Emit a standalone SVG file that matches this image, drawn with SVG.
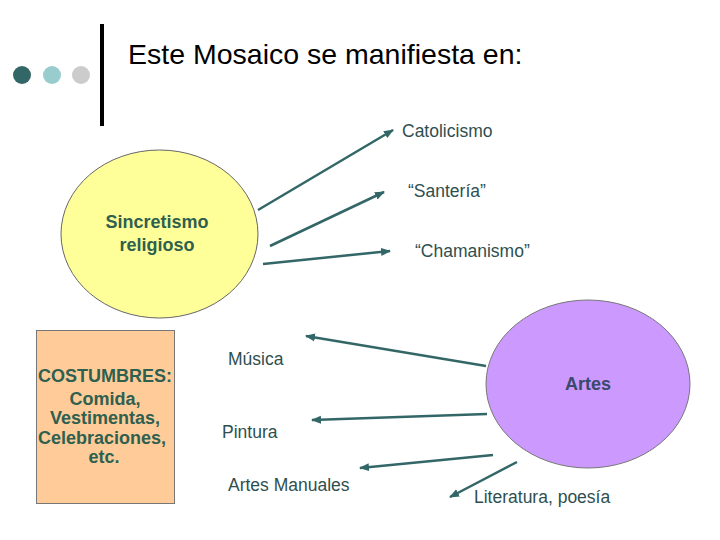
<svg xmlns="http://www.w3.org/2000/svg" width="720" height="540" viewBox="0 0 720 540">
<style>
.lbl{font-family:"Liberation Sans",Arial,sans-serif;font-size:17.5px;fill:#2f4f4f}
.bold{font-family:"Liberation Sans",Arial,sans-serif;font-size:18px;font-weight:bold;fill:#2f5f4f;text-anchor:middle}
.conn line{stroke:#336666;stroke-width:2.5;marker-end:url(#ah)}
</style>
<defs>
<marker id="ah" viewBox="0 0 10 10" refX="9" refY="5" markerWidth="4" markerHeight="4" orient="auto" markerUnits="strokeWidth">
<path d="M0,1 L10,5 L0,9 z" fill="#336666"/>
</marker>
</defs>
<rect width="720" height="540" fill="#fff"/>
<g id="header">
<circle cx="22" cy="75" r="9" fill="#336666"/>
<circle cx="52" cy="75" r="9" fill="#99cccc"/>
<circle cx="81" cy="75" r="9" fill="#cccccc"/>
<rect x="100" y="24" width="4" height="102" fill="#000"/>
<text x="128" y="64" font-family="Liberation Sans,Arial,sans-serif" font-size="28.5" fill="#000">Este Mosaico se manifiesta en:</text>
</g>
<g id="sincretismo">
<ellipse cx="159.5" cy="234" rx="98.5" ry="84" fill="#ffff99" stroke="#666" stroke-width="1"/>
<text class="bold" x="157" y="228">Sincretismo</text>
<text class="bold" x="157" y="251">religioso</text>
</g>
<g id="costumbres">
<rect x="36.5" y="330.5" width="138" height="173" fill="#ffcc99" stroke="#777" stroke-width="1"/>
<text class="bold" x="105" y="382">COSTUMBRES:</text>
<text class="bold" x="105" y="405">Comida,</text>
<text class="bold" x="105" y="424">Vestimentas,</text>
<text class="bold" x="102" y="444">Celebraciones,</text>
<text class="bold" x="104" y="463">etc.</text>
</g>
<g id="artes">
<ellipse cx="588" cy="384" rx="102" ry="84" fill="#cc99ff" stroke="#777" stroke-width="1"/>
<text class="bold" x="588" y="390" style="fill:#3a4a6a">Artes</text>
</g>
<g id="catolicismo"><text class="lbl" x="402" y="137">Catolicismo</text></g>
<g id="santeria"><text class="lbl" x="408" y="197">“Santería”</text></g>
<g id="chamanismo"><text class="lbl" x="415" y="257">“Chamanismo”</text></g>
<g id="musica"><text class="lbl" x="228" y="365">Música</text></g>
<g id="pintura"><text class="lbl" x="222" y="438">Pintura</text></g>
<g id="manuales"><text class="lbl" x="228" y="491">Artes Manuales</text></g>
<g id="literatura"><text class="lbl" x="474" y="503">Literatura, poesía</text></g>
<g id="connectors" class="conn">
<line x1="258" y1="210" x2="393" y2="130"/>
<line x1="270" y1="246" x2="384" y2="192"/>
<line x1="263" y1="264" x2="390" y2="251"/>
<line x1="486" y1="366" x2="306" y2="336"/>
<line x1="487" y1="414" x2="312" y2="420"/>
<line x1="493" y1="455" x2="360" y2="468"/>
<line x1="517" y1="462" x2="450" y2="497"/>
</g>
</svg>
